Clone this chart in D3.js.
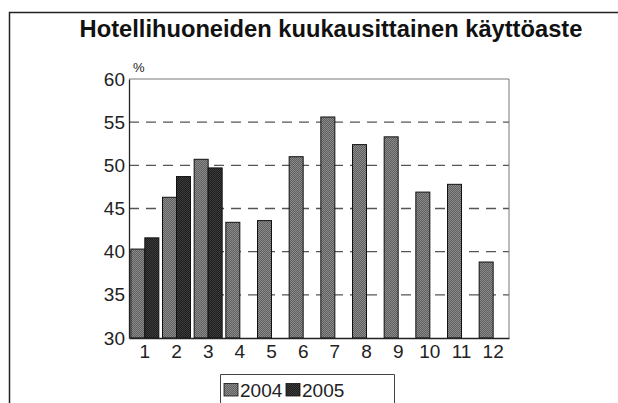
<!DOCTYPE html>
<html><head><meta charset="utf-8">
<script src="https://cdn.jsdelivr.net/npm/d3@7/dist/d3.min.js"></script>
<style>body{margin:0;background:#fff}svg{display:block}</style>
</head><body>
<script>
const months = ["1","2","3","4","5","6","7","8","9","10","11","12"];
const series = ["2004","2005"];
const v2004 = [40.3,46.3,50.7,43.4,43.6,51.0,55.6,52.4,53.3,46.9,47.8,38.8];
const v2005 = [41.6,48.7,49.7,null,null,null,null,null,null,null,null,null];
const yTicks = [30,35,40,45,50,55,60];

const W=618,H=403;
const svg=d3.select("body").append("svg").attr("width",W).attr("height",H);
const defs=svg.append("defs");
function pat(id,base,dot){
  const p=defs.append("pattern").attr("id",id).attr("width",2).attr("height",2).attr("patternUnits","userSpaceOnUse");
  p.append("rect").attr("width",2).attr("height",2).attr("fill",base);
  p.append("rect").attr("width",1).attr("height",1).attr("fill",dot);
  p.append("rect").attr("x",1).attr("y",1).attr("width",1).attr("height",1).attr("fill",dot);
}
pat("p2004","#5e5e5e","#8c8c8c");
pat("p2005","#1e1e1e","#3c3c3c");

const FONT="Liberation Sans, Arial, sans-serif";

// outer frame
svg.append("path").attr("d",`M9.5,${H} V12.5 H${W}`).attr("fill","none").attr("stroke","#222").attr("stroke-width",1.5);

svg.append("text").attr("x",331).attr("y",37).attr("text-anchor","middle")
  .attr("font-family",FONT).attr("font-weight","bold").attr("font-size",23.7)
  .attr("fill","#111").text("Hotellihuoneiden kuukausittainen käyttöaste");

const L=129,R=509,T=79,B=338;
const x=d3.scaleBand().domain(months).range([L,R]);
const y=d3.scaleLinear().domain([30,60]).range([B,T]);
const bw=14;

// grid
svg.append("g").selectAll("line").data(yTicks.filter(d=>d>30&&d<60)).join("line")
  .attr("x1",L).attr("x2",R).attr("y1",d=>y(d)).attr("y2",d=>y(d))
  .attr("stroke","#555").attr("stroke-width",1.3).attr("stroke-dasharray","10,7");

// frame
svg.append("path").attr("d",`M${L},${T} H${R} V${B}`).attr("fill","none").attr("stroke","#777").attr("stroke-width",1);

const data=[];
months.forEach((m,i)=>{
  if(v2004[i]!=null) data.push({m,s:"2004",v:v2004[i],off:-bw});
  if(v2005[i]!=null) data.push({m,s:"2005",v:v2005[i],off:0});
});
svg.append("g").selectAll("rect").data(data).join("rect")
  .attr("x",d=>x(d.m)+x.bandwidth()/2+d.off).attr("width",bw)
  .attr("y",d=>y(d.v)).attr("height",d=>B-y(d.v))
  .attr("fill",d=>"url(#p"+d.s+")").attr("stroke","#111").attr("stroke-width",1);

// axes
const ya=svg.append("g").attr("transform",`translate(${L},0)`).call(d3.axisLeft(y).tickValues(yTicks).tickSize(0).tickPadding(4));
ya.select(".domain").attr("stroke","#222").attr("stroke-width",1.3);
ya.selectAll("text").attr("font-family",FONT).attr("font-size",19).attr("fill","#222");
const xa=svg.append("g").attr("transform",`translate(0,${B})`).call(d3.axisBottom(x).tickSize(0).tickPadding(7));
xa.select(".domain").attr("stroke","#222").attr("stroke-width",1.3);
xa.selectAll("text").attr("font-family",FONT).attr("font-size",19).attr("fill","#222");

svg.append("text").attr("x",133).attr("y",72).attr("font-family",FONT)
  .attr("font-size",13).attr("fill","#222").text("%");

// legend
svg.append("path").attr("d",`M220.5,${H} V374.5 H394.5 V${H}`).attr("fill","none").attr("stroke","#444").attr("stroke-width",1);
const lg=svg.append("g");
const lx=[224,286];
series.forEach((s,i)=>{
  lg.append("rect").attr("x",lx[i]).attr("y",383.5).attr("width",14).attr("height",12.5)
    .attr("fill","url(#p"+s+")").attr("stroke","#111").attr("stroke-width",0.8);
  lg.append("text").attr("x",lx[i]+16).attr("y",397).attr("font-family",FONT)
    .attr("font-size",19).attr("fill","#222").text(s);
});
</script>
</body></html>
